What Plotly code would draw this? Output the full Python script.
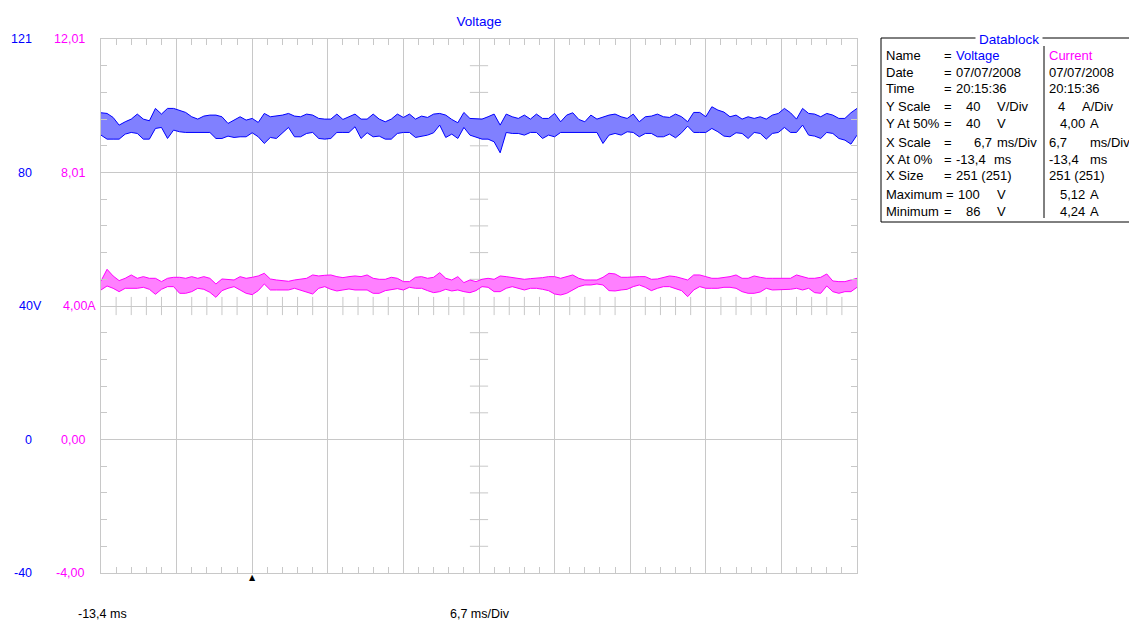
import plotly.graph_objects as go

# ---------------- data ----------------
T0_MS = -13.4          # X At 0%
DIV_MS = 6.7           # ms / division
DT_MS = 0.536          # every 2nd of the 251 samples (0.268 ms)

v_upper = [97.9, 97.7, 96.5, 94.2, 95.2, 96.0, 97.5, 96.0, 95.5, 99.2,
           97.5, 99.2, 99.2, 98.5, 98.0, 96.7, 96.0, 96.9, 97.2, 97.2,
           96.7, 94.7, 95.7, 96.7, 95.7, 96.2, 95.0, 97.7, 96.7, 96.9,
           97.2, 97.7, 96.9, 96.7, 97.5, 97.2, 96.2, 96.0, 96.0, 97.5,
           95.9, 96.7, 97.5, 96.0, 96.0, 97.5, 96.0, 95.2, 96.0, 97.5,
           96.5, 97.5, 96.0, 96.9, 96.5, 97.5, 97.7, 97.2, 95.9, 94.9,
           98.0, 96.2, 96.2,
           96.0, 96.7, 97.5, 94.2, 97.5, 96.7, 96.2, 97.2, 96.0, 97.5,
           96.2, 96.2, 97.7, 95.2, 97.2, 97.9, 95.9, 95.2, 97.2, 96.0,
           96.7, 97.2, 97.5, 96.7, 96.2, 97.5, 95.2, 96.7, 96.9, 97.5,
           96.7, 96.5, 97.5, 96.7, 95.2, 98.0, 98.0, 96.7, 99.7, 98.7,
           98.1, 96.7, 97.2, 96.0, 96.7, 96.2, 96.7, 96.0, 97.2, 97.7,
           99.2, 97.9, 96.0, 99.2, 97.7, 97.5, 96.7, 97.7, 97.2, 96.2,
           96.2, 97.9, 99.2]

v_lower = [91.2, 90.0, 90.0, 90.0, 91.5, 92.0, 91.7, 90.0, 90.0, 93.2,
           93.5, 90.2, 92.7, 92.2, 92.0, 92.0, 92.0, 92.0, 92.0, 90.2,
           90.2, 90.9, 90.5, 90.7, 90.7, 91.9, 90.7, 88.7, 90.5, 90.2,
           91.9, 93.5, 90.7, 90.7, 91.7, 92.0, 90.2, 90.0, 90.2, 92.0,
           92.0, 92.0, 93.7, 90.2, 91.9, 90.7, 90.9, 90.0, 90.0, 91.7,
           92.0, 92.0, 90.5, 90.9, 91.2, 91.9, 94.2, 90.5, 91.5, 90.2,
           93.5, 91.2, 90.7,
           90.0, 90.0, 89.2, 85.9, 92.0, 91.7, 91.7, 91.2, 92.0, 92.0,
           90.2, 91.2, 90.7, 92.0, 92.0, 92.0, 92.0, 92.0, 92.0, 92.0,
           88.7, 91.2, 91.7, 91.2, 92.2, 92.0, 90.7, 91.7, 91.7, 90.7,
           90.7, 91.5, 90.4, 91.9, 93.9, 92.0, 92.0, 92.0, 93.2, 92.2,
           90.9, 90.7, 91.9, 91.7, 90.2, 92.0, 91.7, 90.0, 91.7, 92.0,
           93.5, 92.0, 92.0, 94.2, 91.2, 90.9, 90.2, 92.0, 91.7, 90.2,
           89.7, 88.5, 91.2]

i_upper = [4.75, 5.10, 4.90, 4.76, 4.83, 4.93, 4.83, 4.88, 4.83, 4.83,
           4.73, 4.83, 4.86, 4.86, 4.83, 4.88, 4.83, 4.88, 4.83, 4.66,
           4.81, 4.80, 4.78, 4.88, 4.83, 4.86, 4.90, 4.98, 4.81, 4.78,
           4.76, 4.74, 4.78, 4.80, 4.83, 4.93, 4.90, 4.92, 4.93, 4.88,
           4.85, 4.88, 4.90, 4.88, 4.93, 4.83, 4.80, 4.80, 4.86, 4.83,
           4.73, 4.73, 4.86, 4.88, 4.83, 4.86, 5.00, 4.83, 4.78, 4.88,
           4.70, 4.78, 4.73,
           4.80, 4.83, 4.80, 4.90, 4.88, 4.86, 4.83, 4.80, 4.82, 4.83,
           4.85, 4.88, 4.88, 4.83, 4.88, 4.93, 4.83, 4.78, 4.78, 4.78,
           4.86, 4.98, 4.96, 4.86, 4.86, 4.88, 4.88, 4.88, 4.80, 4.81,
           4.85, 4.90, 4.88, 4.82, 4.78, 4.93, 4.93, 4.88, 4.83, 4.83,
           4.85, 4.88, 4.93, 4.83, 4.83, 4.90, 4.86, 4.83, 4.83, 4.83,
           4.83, 4.83, 4.93, 4.88, 4.83, 4.83, 4.86, 4.96, 4.75, 4.73,
           4.73, 4.78, 4.83]

i_lower = [4.48, 4.60, 4.53, 4.43, 4.53, 4.53, 4.53, 4.56, 4.50, 4.35,
           4.50, 4.58, 4.58, 4.38, 4.38, 4.43, 4.53, 4.50, 4.41, 4.26,
           4.46, 4.53, 4.58, 4.48, 4.38, 4.34, 4.46, 4.66, 4.48, 4.48,
           4.48, 4.48, 4.53, 4.48, 4.43, 4.36, 4.53, 4.58, 4.50, 4.45,
           4.48, 4.51, 4.48, 4.48, 4.48, 4.38, 4.38, 4.46, 4.48, 4.52,
           4.48, 4.56, 4.53, 4.53, 4.46, 4.40, 4.43, 4.50, 4.45, 4.48,
           4.43, 4.40, 4.46,
           4.58, 4.56, 4.43, 4.43, 4.53, 4.58, 4.53, 4.48, 4.53, 4.53,
           4.50, 4.46, 4.36, 4.33, 4.38, 4.48, 4.58, 4.63, 4.63, 4.66,
           4.63, 4.46, 4.45, 4.48, 4.50, 4.58, 4.63, 4.56, 4.46, 4.53,
           4.58, 4.58, 4.53, 4.46, 4.28, 4.48, 4.58, 4.53, 4.53, 4.53,
           4.56, 4.56, 4.53, 4.43, 4.38, 4.38, 4.42, 4.53, 4.48, 4.48,
           4.48, 4.50, 4.53, 4.48, 4.53, 4.40, 4.38, 4.60, 4.43, 4.38,
           4.43, 4.43, 4.56]

time_ms = [round(T0_MS + k * DT_MS, 4) for k in range(len(v_upper))]

volt_range = [-40, 120]
amp_range = [-4, 12]
volt_tick_vals = [120, 80, 40, 0, -40]
volt_tick_text = ["121", "80", "40V", "0", "-40"]
amp_tick_vals = [12, 8, 4, 0, -4]
amp_tick_text = ["12,01", "8,01", "4,00A", "0,00", "-4,00"]

db_rows = ["Name", "Date", "Time", "Y Scale", "Y At 50%", "X Scale",
           "X At 0%", "X Size", "Maximum", "Minimum"]

# ---------------- style ----------------
OFF = 8                      # page body margin of the html page
W, H = 1137 - OFF, 621 - OFF
ML, MT = 101 - OFF, 39 - OFF
MR, MB = 280, 48
PW, PH = W - ML - MR, H - MT - MB
FONT = "Liberation Sans, Arial, sans-serif"
FS = 12.5
FS_DB = 13
FS_TITLE = 13.5
BLUE = "#0000ff"
MAG = "#ff00ff"
GRID = "#c8c8c8"

x_range = [T0_MS, T0_MS + 10 * DIV_MS]
V_DIV = 40
N_MINOR = 5

fig = go.Figure()

def band(lower, upper, line_color, fill_color, yaxis):
    fig.add_trace(go.Scatter(x=time_ms, y=lower, mode="lines", yaxis=yaxis,
                             line=dict(color=line_color, width=1),
                             hoverinfo="skip", showlegend=False))
    fig.add_trace(go.Scatter(x=time_ms, y=upper, mode="lines", yaxis=yaxis,
                             line=dict(color=line_color, width=1),
                             fill="tonexty", fillcolor=fill_color,
                             hoverinfo="skip", showlegend=False))

# centre graticule cross ticks (derived from the axis divisions)
x_mid = (x_range[0] + x_range[1]) / 2
y_mid = (volt_range[0] + volt_range[1]) / 2
minor_xs = [x_range[0] + i * DIV_MS / N_MINOR for i in range(10 * N_MINOR + 1)
            if i % N_MINOR]
minor_ys = [volt_range[0] + j * V_DIV / N_MINOR for j in range(4 * N_MINOR + 1)
            if j % N_MINOR]
fig.add_trace(go.Scatter(x=minor_xs, y=[y_mid] * len(minor_xs), mode="markers",
                         marker=dict(symbol="line-ns", size=13,
                                     line=dict(color=GRID, width=1)),
                         hoverinfo="skip", showlegend=False))
fig.add_trace(go.Scatter(x=[x_mid] * len(minor_ys), y=minor_ys, mode="markers",
                         marker=dict(symbol="line-ew", size=13,
                                     line=dict(color=GRID, width=1)),
                         hoverinfo="skip", showlegend=False))

band(v_lower, v_upper, BLUE, "#8080ff", "y")
band(i_lower, i_upper, MAG, "#ff80ff", "y2")

minor_x = dict(dtick=DIV_MS / N_MINOR, tick0=T0_MS, ticklen=6, tickcolor=GRID,
               tickwidth=1, showgrid=False, ticks="inside")
minor_y = dict(dtick=V_DIV / N_MINOR, tick0=volt_range[0], ticklen=6,
               tickcolor=GRID, tickwidth=1, showgrid=False, ticks="inside")

def px_x(px):
    return (px - OFF - ML) / PW

def px_y(py):
    return (H - MB - (py - OFF)) / PH

fig.update_layout(
    width=W, height=H,
    margin=dict(l=ML, r=MR, t=MT, b=MB, pad=0),
    paper_bgcolor="white", plot_bgcolor="white",
    font=dict(family=FONT, size=FS, color="black"),
    showlegend=False,
    title=dict(text="Voltage", x=px_x(479), xref="paper",
               xanchor="center", y=1 - (21 - OFF) / H, yref="container",
               yanchor="middle",
               font=dict(color=BLUE, size=FS_TITLE, family=FONT)),
    xaxis=dict(range=x_range, tick0=T0_MS, dtick=DIV_MS, showgrid=True,
               gridcolor=GRID, gridwidth=1, zeroline=False,
               showline=True, linecolor=GRID, linewidth=1, mirror="ticks",
               ticks="", showticklabels=False, minor=minor_x),
    yaxis=dict(range=volt_range, tick0=volt_range[0], dtick=V_DIV,
               showgrid=True, gridcolor=GRID, gridwidth=1, zeroline=False,
               showline=True, linecolor=GRID, linewidth=1, mirror="ticks",
               ticks="", showticklabels=False, minor=minor_y),
    yaxis2=dict(range=amp_range, overlaying="y", visible=False),
)

def text(px, py, s, color="black", anchor="left", pad=0, size=FS_DB, **kw):
    fig.add_annotation(x=px_x(px), y=px_y(py), xref="paper", yref="paper",
                       text=s, showarrow=False, xanchor=anchor,
                       yanchor="middle", borderpad=pad,
                       font=dict(color=color, size=size, family=FONT), **kw)

# left scale labels (two columns)
for v, t in zip(volt_tick_vals, volt_tick_text):
    right = 43 if t.endswith("V") else 33
    fig.add_annotation(x=px_x(right), y=v, xref="paper", yref="y", text=t,
                       showarrow=False, xanchor="right", yanchor="middle",
                       borderpad=0, font=dict(color=BLUE, size=FS, family=FONT))
for v, t in zip(amp_tick_vals, amp_tick_text):
    right = 97 if t.endswith("A") else 86
    fig.add_annotation(x=px_x(right), y=v, xref="paper", yref="y2", text=t,
                       showarrow=False, xanchor="right", yanchor="middle",
                       borderpad=0, font=dict(color=MAG, size=FS, family=FONT))

# bottom labels
text(102, 614, "-13,4 ms", anchor="center", size=FS)
text(480, 614, "6,7 ms/Div", anchor="center", size=FS)

# trigger marker at t = 0
fig.add_annotation(x=0, y=0, xref="x", yref="paper", text="▲", showarrow=False,
                   xanchor="center", yanchor="top", borderpad=0, yshift=1,
                   font=dict(color="black", size=8, family="DejaVu Sans"))

# ---------------- Datablock ----------------
fig.add_shape(type="rect", xref="paper", yref="paper",
              x0=px_x(881), x1=px_x(1136), y0=px_y(38), y1=px_y(222),
              line=dict(color="black", width=1), fillcolor="rgba(0,0,0,0)")
fig.add_shape(type="line", xref="paper", yref="paper",
              x0=px_x(1044), x1=px_x(1044), y0=px_y(46), y1=px_y(218),
              line=dict(color="black", width=1))
text(1009, 39, "Datablock", color=BLUE, anchor="center",
     bgcolor="white", pad=3, size=FS_TITLE)

row_y = [56, 72, 88, 107, 124, 142, 159, 176, 194, 211]
for r, y in zip(db_rows, row_y):
    text(885, y, r)
    text(945 if r == "Maximum" else 943, y, "=")

# voltage column
text(955, row_y[0], "Voltage", color=BLUE)
text(955, row_y[1], "07/07/2008")
text(955, row_y[2], "20:15:36")
text(981, row_y[3], "40", anchor="right"); text(996, row_y[3], "V/Div")
text(981, row_y[4], "40", anchor="right"); text(996, row_y[4], "V")
text(993, row_y[5], "6,7", anchor="right"); text(996, row_y[5], "ms/Div")
text(955, row_y[6], "-13,4"); text(993, row_y[6], "ms")
text(955, row_y[7], "251 (251)")
text(981, row_y[8], "100", anchor="right"); text(996, row_y[8], "V")
text(981, row_y[9], "86", anchor="right"); text(996, row_y[9], "V")

# current column
text(1048, row_y[0], "Current", color=MAG)
text(1048, row_y[1], "07/07/2008")
text(1048, row_y[2], "20:15:36")
text(1066, row_y[3], "4", anchor="right"); text(1081, row_y[3], "A/Div")
text(1086, row_y[4], "4,00", anchor="right"); text(1089, row_y[4], "A")
text(1048, row_y[5], "6,7"); text(1089, row_y[5], "ms/Div")
text(1048, row_y[6], "-13,4"); text(1089, row_y[6], "ms")
text(1048, row_y[7], "251 (251)")
text(1086, row_y[8], "5,12", anchor="right"); text(1089, row_y[8], "A")
text(1086, row_y[9], "4,24", anchor="right"); text(1089, row_y[9], "A")

fig.write_html("out.html", config={"displayModeBar": False})
